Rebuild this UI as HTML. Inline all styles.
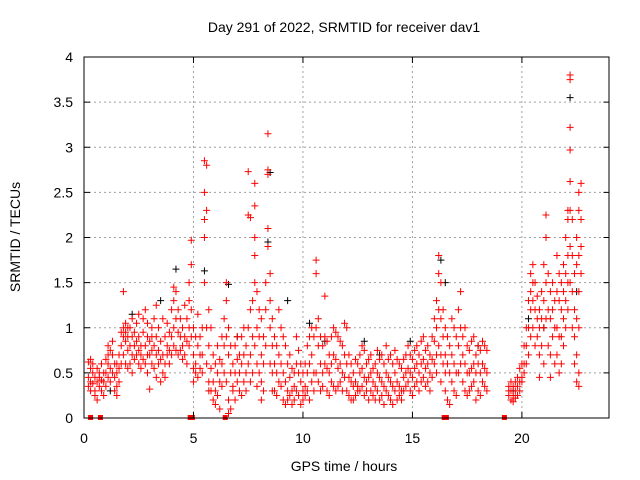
<!DOCTYPE html>
<html><head><meta charset="utf-8"><style>
html,body{margin:0;padding:0;background:#fff;}
svg{display:block;font-family:"Liberation Sans",Arial,sans-serif;}
</style></head><body>
<svg id="chart" width="640" height="480" xmlns="http://www.w3.org/2000/svg">
<rect width="640" height="480" fill="#fff"/>
<text x="344" y="32" font-size="14" text-anchor="middle">Day 291 of 2022, SRMTID for receiver dav1</text>
<text transform="translate(20,237) rotate(-90)" font-size="14" text-anchor="middle">SRMTID / TECUs</text>
<text x="344" y="471" font-size="14" text-anchor="middle">GPS time / hours</text>
<g id="grid"></g>
<g id="marks"></g>
<rect x="84" y="57" width="525" height="361" fill="none" stroke="#000" stroke-width="1"/>
<g id="ticks"></g>
</svg>
<script>
const xTicks = [0,5,10,15,20];
const yTicks = [0,0.5,1,1.5,2,2.5,3,3.5,4];
const yTickLabels = ["0","0.5","1","1.5","2","2.5","3","3.5","4"];
const gapMarkers = [0.3,0.75,4.85,4.95,6.45,16.45,16.55,19.2];
const blackPoints = [[2.2,1.15],[3.5,1.3],[4.2,1.65],[5.5,1.63],[6.6,1.48],[8.4,1.95],[8.5,2.72],[9.3,1.3],[10.3,1.05],[11.0,0.85],[12.8,0.85],[14.9,0.85],[16.3,1.75],[16.5,1.5],[20.3,1.1],[21.0,1.0],[22.2,3.55],[22.5,1.4],[1.2,0.3],[7.0,0.9],[13.5,0.7],[18.0,0.8],[19.6,0.3]];
const redSeries = [
[0.2,.45,.62,.35],[0.3,.55,.65,.4,.3],[0.4,.5,.38,.6],[0.5,.3,.45,.25],[0.6,.4,.55,.2],[0.7,.35,.5,.45],[0.8,.3,.42,.6],[0.9,.25,.4,.5],
[1.0,.5,.65,.35],[1.1,.6,.7,.45,.8],[1.2,.55,.75,.4],[1.3,.7,.85,.5],[1.4,.45,.3,.6],[1.5,.35,.5,.25,.6],[1.6,.4,.55,.7],[1.7,.8,.95,.6],[1.8,1.4,1.0,.9,.7],[1.9,1.05,.95,.85,.6],
[2.0,.9,1.0,.75,.55],[2.1,1.0,.8,.6],[2.2,1.1,.9,.7,.5],[2.3,.95,.8,.65],[2.4,.85,1.05,.7],[2.5,.9,.75,.6,1.15],[2.6,.7,.8,.55],[2.7,.95,1.1,.65],[2.8,1.2,.8,.6],[2.9,.9,1.05,.7,.5],
[3.0,.32,.7,.85],[3.1,.6,.75,.9,1.0],[3.2,.8,1.1,.55],[3.3,1.25,.9,.7,.45],[3.4,1.0,.75,.6],[3.5,.85,.65,.4],[3.6,.7,.5,1.1],[3.7,.9,.6,.45],[3.8,.8,.7,1.05],[3.9,.95,.75,.6],
[4.0,1.2,.9,.7],[4.1,1.45,1.3,1.0,.8],[4.2,1.4,1.1,.75],[4.3,1.2,.95,.7],[4.4,.9,.75,1.1],[4.5,1.0,.8,.65],[4.6,.9,1.25,.7],[4.7,1.1,.85,.6],[4.8,1.5,1.3,1.0,.8],[4.9,1.97,1.7,1.2,.9],
[5.0,1.0,.7,.55,.4],[5.1,.9,.6,.5],[5.2,1.15,.8,.45],[5.3,.7,.55,.9],[5.4,1.0,.5,.7],[5.5,2.85,2.5,2.2,2.0,1.5],[5.6,2.8,2.3,1.0,.6],[5.7,1.2,.8,.4,.3],[5.8,1.0,.55,.3],[5.9,.7,.4,.2],
[6.0,.6,.3,.15],[6.1,.5,.25,.8],[6.2,.4,.1,.65],[6.3,.9,.6,.35],[6.4,1.1,.8,.5],[6.5,1.5,1.3,.9,.4],[6.6,1.0,.7,.2,.05],[6.7,.8,.5,.1],[6.8,.6,.35,.3],[6.9,.5,.8,.2],
[7.0,.65,.4,.9],[7.1,.7,.5,.3],[7.2,.9,.6,.25],[7.3,1.0,.7,.4],[7.4,.8,.5,.3],[7.5,2.73,2.25,1.0,.6],[7.6,2.22,1.2,.7,.4],[7.7,1.3,.9,.5],[7.8,2.6,2.35,2.0,1.8,1.5,.8],[7.9,1.4,1.0,.6,.35],
[8.0,1.2,.9,.5],[8.1,1.1,.7,.4,.2],[8.2,.9,.6,.3],[8.3,1.5,1.2,.8],[8.4,3.15,2.75,2.7,2.1,1.9],[8.5,1.6,1.3,1.0,.6],[8.6,1.1,.8,.5,.3],[8.7,.9,.6,.3],[8.8,.8,.5,.25],[8.9,1.2,.7,.4],
[9.0,1.0,.6,.35],[9.1,.9,.5,.2],[9.2,.8,.4,.15],[9.3,.6,.3,.2],[9.4,.7,.45,.25],[9.5,.55,.3,.15],[9.6,.5,.35,.2],[9.7,.9,.6,.3],[9.8,.75,.5,.25],[9.9,.6,.4,.15],
[10.0,.5,.3,.2],[10.1,.6,.35,.25],[10.2,.8,.5,.3],[10.3,.9,.6,.2],[10.4,1.0,.7,.4],[10.5,.9,.5,.3],[10.6,1.75,1.6,1.0,.5],[10.7,1.1,.8,.4],[10.8,.9,.6,.3],[10.9,.8,.5,.35],
[11.0,1.35,.9,.6],[11.1,.85,.55,.3],[11.2,.7,.5,.25],[11.3,.9,.6,.4],[11.4,1.0,.7,.35],[11.5,.95,.65,.3],[11.6,.9,.55,.35],[11.7,.85,.6,.4],[11.8,.8,.5,.3],[11.9,1.05,.7,.45],
[12.0,1.0,.6,.3],[12.1,.7,.45,.25],[12.2,.6,.4,.2],[12.3,.5,.35,.2],[12.4,.65,.4,.25],[12.5,.6,.35,.3],[12.6,.7,.5,.3],[12.7,.8,.55,.35],[12.8,.75,.45,.25],[12.9,.6,.4,.3],
[13.0,.65,.45,.2],[13.1,.7,.5,.3],[13.2,.55,.4,.25],[13.3,.6,.35,.2],[13.4,.75,.5,.3],[13.5,.65,.45,.2],[13.6,.7,.4,.25],[13.7,.6,.35,.15],[13.8,.8,.5,.3],[13.9,.65,.45,.25],
[14.0,.7,.4,.2],[14.1,.6,.35,.15],[14.2,.75,.5,.3],[14.3,.65,.4,.2],[14.4,.6,.35,.25],[14.5,.55,.3,.2],[14.6,.65,.45,.3],[14.7,.7,.5,.35],[14.8,.8,.55,.4],[14.9,.7,.5,.3],
[15.0,.65,.45,.25],[15.1,.75,.55,.35],[15.2,.8,.6,.4],[15.3,.7,.5,.3],[15.4,.85,.6,.4],[15.5,.9,.65,.45],[15.6,.75,.55,.35],[15.7,.8,.6,.4],[15.8,.7,.5,.3],[15.9,.9,.65,.45],
[16.0,1.1,.85,.6],[16.1,1.3,1.0,.7,.5],[16.2,1.8,1.6,1.2,.8],[16.3,1.5,1.1,.7,.4],[16.4,1.2,.9,.6],[16.5,1.0,.7,.5,.3],[16.6,.9,.6,.2],[16.7,.8,.5,.15],[16.8,1.1,.7,.4],[16.9,1.0,.6,.3],
[17.0,.9,.5,.25],[17.1,1.2,.8,.5],[17.2,1.4,1.0,.6],[17.3,.9,.7,.4],[17.4,1.0,.6,.3],[17.5,.8,.5,.25],[17.6,.75,.5,.3],[17.7,.85,.55,.35],[17.8,.9,.6,.4],[17.9,.7,.5,.2],
[18.0,.8,.6,.3],[18.1,.75,.5,.25],[18.2,.85,.6,.4],[18.3,.8,.55,.35],[18.4,.75,.5,.3],
[19.4,.35,.25,.3],[19.5,.3,.2,.4],[19.6,.35,.25,.18],[19.7,.4,.3,.22],[19.8,.45,.35,.25],[19.9,.55,.4,.3],
[20.0,.6,.45,.4],[20.1,.8,.6,.5],[20.2,1.0,.8,.6],[20.3,1.3,1.0,.7],[20.4,1.6,1.4,1.2,.9],[20.5,1.7,1.5,1.3,1.0],[20.6,1.5,1.2,.8],[20.7,1.35,1.1,.9],[20.8,1.2,1.0,.7,.45],[20.9,1.4,1.1,.8],
[21.0,1.7,1.3,1.0,.6],[21.1,2.25,2.0,1.5,1.1],[21.2,1.6,1.2,.8],[21.3,1.4,1.1,.7,.45],[21.4,1.5,1.2,.9],[21.5,1.3,1.0,.6],[21.6,1.8,1.4,1.0,.7],[21.7,1.6,1.3,.9,.5],[21.8,1.5,1.2,.9,.6],[21.9,1.7,1.4,1.1,.8],
[22.0,2.0,1.6,1.3,1.0],[22.1,2.3,2.2,1.8,1.5,1.2],[22.2,3.8,3.75,3.22,2.97,2.62,2.3,1.9,1.5],[22.3,2.2,1.8,1.4,1.0],[22.4,1.6,1.2,.9,.6],[22.5,2.0,1.7,1.1,.7,.4],[22.6,2.5,2.3,1.8,1.4,1.0,.5,.35],[22.7,2.6,2.2,1.9,1.6]
];

const NS = "http://www.w3.org/2000/svg";
const X0 = 84, X1 = 609.5, Y0 = 418, Y1 = 57, XMAX = 24, YMAX = 4;
function xPos(t){ return X0 + t/XMAX*(X1-X0); }
function yPos(v){ return Y0 - v/YMAX*(Y0-Y1); }
function mk(tag, attrs, parent){ const e=document.createElementNS(NS,tag); for(const k in attrs) e.setAttribute(k,attrs[k]); parent.appendChild(e); return e; }

const grid = document.getElementById('grid');
const ticks = document.getElementById('ticks');
const marks = document.getElementById('marks');

xTicks.forEach(t=>{
  const x = xPos(t);
  if (t>0) {
    const g = mk('line',{x1:x,y1:Y0,x2:x,y2:Y1,stroke:'#a0a0a0','stroke-dasharray':'2,3'},grid);
    
    
  }
  mk('line',{x1:x,y1:Y0,x2:x,y2:Y0-6,stroke:'#000'},ticks);
  mk('line',{x1:x,y1:Y1,x2:x,y2:Y1+6,stroke:'#000'},ticks);
  const lb = mk('text',{x:x,y:443,'font-size':14,'text-anchor':'middle'},ticks);
  lb.textContent = String(t);
  
  
});
yTicks.forEach((v,i)=>{
  const y = yPos(v);
  if (v>0 && v<YMAX) {
    const g = mk('line',{x1:X0,y1:y,x2:X1,y2:y,stroke:'#a0a0a0','stroke-dasharray':'2,3'},grid);
    
    
  }
  mk('line',{x1:X0,y1:y,x2:X0+6,y2:y,stroke:'#000'},ticks);
  mk('line',{x1:X1,y1:y,x2:X1-6,y2:y,stroke:'#000'},ticks);
  const lb = mk('text',{x:73,y:y+5,'font-size':14,'text-anchor':'end'},ticks);
  lb.textContent = yTickLabels[i];
  
  
});

function plus(t,v,color){
  const x = xPos(t), y = yPos(v);
  const p = mk('path',{d:`M${x-3.5},${y}h7M${x},${y-3.5}v7`,stroke:color,'stroke-width':1,fill:'none'},marks);
  return p;
}
blackPoints.forEach(([t,v])=>{
  const p = plus(t,v,'#000');
  
  
});
redSeries.forEach(row=>{
  const t = row[0];
  for(let i=1;i<row.length;i++){
    const p = plus(t,row[i],'#ff0000');
    
    
  }
});
gapMarkers.forEach(t=>{
  const x = xPos(t);
  const r = mk('rect',{x:x-2.5,y:Y0-3,width:5,height:5,fill:'#ff0000'},marks);
  
  
});
</script>
</body></html>
